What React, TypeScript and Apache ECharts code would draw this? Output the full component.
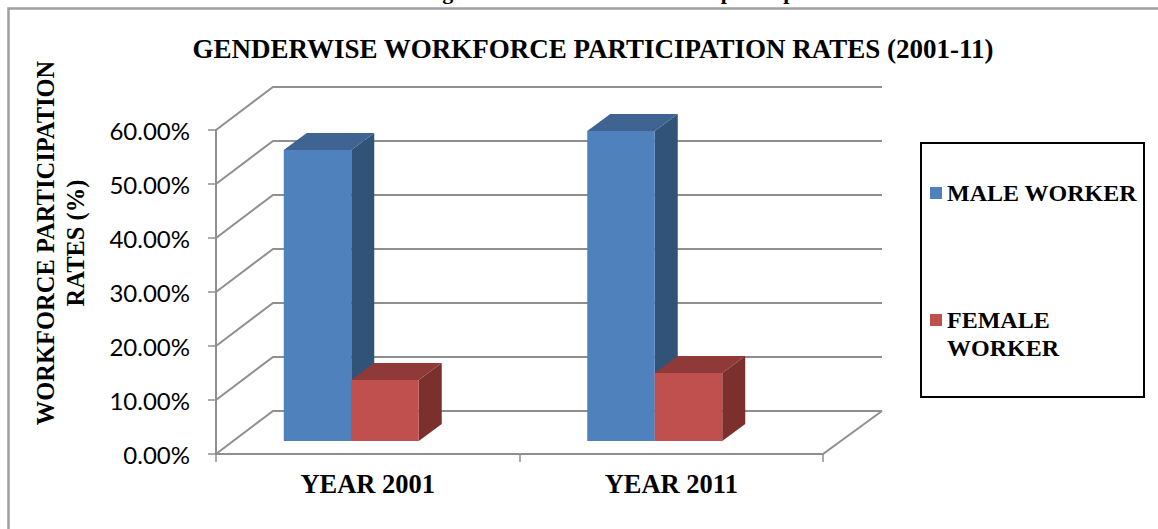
import React, { useEffect, useRef } from "react";
import * as echarts from "echarts";

const categories = ["YEAR 2001", "YEAR 2011"];
const maleWorker = [53.9, 57.4];
const femaleWorker = [11.3, 12.6];
const yTicks = [0, 10, 20, 30, 40, 50, 60];

const SERIF = "'Liberation Serif', 'Times New Roman', serif";
const GRID_COLOR = "#8f8f8f";
const DEPTH_X = 57;
const DEPTH_Y = 43;
const BAR_W = 67.5;
const BAR_DX = 23;
const BAR_DY = 17;
const FLOOR_DX = 16.5;
const FLOOR_DY = 13;

function barRenderer(side: number, front: string, sideColor: string, top: string) {
  return (_p: any, api: any) => {
    const base = api.coord([api.value(0), 0]);
    const head = api.coord([api.value(0), api.value(1)]);
    const cx = base[0] - FLOOR_DX;
    const x0 = side < 0 ? cx - BAR_W : cx;
    const x1 = x0 + BAR_W;
    const yb = base[1] - FLOOR_DY;
    const yt = head[1] - FLOOR_DY;
    return {
      type: "group",
      children: [
        { type: "polygon", shape: { points: [[x1, yb], [x1 + BAR_DX, yb - BAR_DY], [x1 + BAR_DX, yt - BAR_DY], [x1, yt]] }, style: { fill: sideColor } },
        { type: "polygon", shape: { points: [[x0, yt], [x1, yt], [x1 + BAR_DX, yt - BAR_DY], [x0 + BAR_DX, yt - BAR_DY]] }, style: { fill: top } },
        { type: "rect", shape: { x: x0, y: yt, width: BAR_W, height: yb - yt }, style: { fill: front } },
      ],
    };
  };
}

function frameRenderer(p: any, api: any) {
  const cs = p.coordSys;
  const v = api.value(0);
  const y = api.coord([0, v])[1];
  const style = { stroke: GRID_COLOR, lineWidth: 2, fill: "none" };
  const children: any[] = [
    { type: "polyline", shape: { points: [[cs.x, y], [cs.x + DEPTH_X, y - DEPTH_Y], [cs.x + cs.width + DEPTH_X + 2, y - DEPTH_Y]] }, style },
  ];
  if (v === 0) {
    children.push({ type: "line", shape: { x1: cs.x + cs.width, y1: y, x2: cs.x + cs.width + DEPTH_X + 2, y2: y - DEPTH_Y }, style });
  }
  return { type: "group", children };
}

export default function App() {
  const ref = useRef<HTMLDivElement>(null);
  useEffect(() => {
    const chart = echarts.init(ref.current!, undefined, { renderer: "svg" });
    chart.setOption({
      animation: false,
      backgroundColor: "#ffffff",
      color: ["#4F81BD", "#C0504D"],
      title: {
        text: "GENDERWISE WORKFORCE PARTICIPATION RATES (2001-11)",
        left: 588,
        top: 30,
        textAlign: "center",
        textStyle: { fontFamily: SERIF, fontWeight: "bold", fontSize: 27, color: "#000" },
      },
      grid: { left: 216, top: 130, width: 607, height: 324 },
      xAxis: {
        type: "category",
        data: categories,
        boundaryGap: true,
        axisLine: { lineStyle: { color: GRID_COLOR, width: 2 } },
        axisTick: { show: true, length: 8, lineStyle: { color: GRID_COLOR, width: 1.5 } },
        axisLabel: { margin: 16, fontFamily: SERIF, fontWeight: "bold", fontSize: 26.5, color: "#000" },
      },
      yAxis: {
        type: "value",
        min: 0,
        max: 60,
        interval: 10,
        splitLine: { show: false },
        axisLine: { show: true, lineStyle: { color: GRID_COLOR, width: 2 } },
        axisTick: { show: true, length: 8, lineStyle: { color: GRID_COLOR, width: 1.5 } },
        axisLabel: {
          margin: 26,
          fontFamily: "Lato",
          fontSize: 24,
          color: "#000",
          formatter: (v: number) => v.toFixed(2) + "%",
        },
      },
      legend: {
        orient: "vertical",
        left: 930,
        top: 173,
        padding: 0,
        itemGap: 93,
        itemWidth: 12,
        itemHeight: 40,
        selectedMode: false,
        textStyle: { fontFamily: SERIF, fontWeight: "bold", fontSize: 24, lineHeight: 28, color: "#000" },
        formatter: (n: string) => (n === "FEMALE WORKER" ? "FEMALE\nWORKER" : n),
        data: [
          { name: "MALE WORKER", icon: "path://M0 14h12v12h-12z M0 0h0 M0 40h0" },
          { name: "FEMALE WORKER", icon: "path://M0 0h12v12h-12z M0 40h0" },
        ],
      },
      graphic: [
        {
          type: "rect",
          z: -1,
          shape: { x: 8.5, y: 8.5, width: 1170, height: 540 },
          style: { fill: "#fff", stroke: "#a0a0a0", lineWidth: 2.5 },
        },
        {
          type: "rect",
          z: 0,
          shape: { x: 921, y: 143, width: 223, height: 254 },
          style: { fill: "#fff", stroke: "#000", lineWidth: 2 },
        },
        {
          type: "text",
          x: 895,
          y: 2,
          style: {
            text: "Figure: Gender wise workforce participation rates",
            fontFamily: SERIF,
            fontWeight: "bold",
            fontSize: 22,
            fill: "#000",
            textAlign: "right",
            textVerticalAlign: "bottom",
          },
        },
        {
          type: "text",
          x: 60,
          y: 243,
          rotation: Math.PI / 2,
          style: {
            text: "WORKFORCE PARTICIPATION\nRATES (%)",
            fontFamily: SERIF,
            fontWeight: "bold",
            fontSize: 24.5,
            lineHeight: 30,
            fill: "#000",
            textAlign: "center",
            textVerticalAlign: "middle",
          },
        },
      ],
      series: [
        {
          type: "custom",
          name: "frame",
          silent: true,
          z: 1,
          data: yTicks.map((v) => [v]),
          encode: { y: 0 },
          renderItem: frameRenderer,
        },
        {
          type: "custom",
          name: "MALE WORKER",
          z: 2,
          itemStyle: { color: "#4F81BD" },
          data: maleWorker.map((v, i) => [i, v]),
          encode: { x: 0, y: 1 },
          renderItem: barRenderer(-1, "#4F81BD", "#325378", "#3F6491"),
        },
        {
          type: "custom",
          name: "FEMALE WORKER",
          z: 3,
          itemStyle: { color: "#C0504D" },
          data: femaleWorker.map((v, i) => [i, v]),
          encode: { x: 0, y: 1 },
          renderItem: barRenderer(1, "#C0504D", "#7B302E", "#8F3A38"),
        },
      ],
    });
    return () => chart.dispose();
  }, []);
  return (
    <div
      ref={ref}
      style={{ position: "absolute", left: 0, top: 0, width: 1158, height: 529 }}
    />
  );
}
